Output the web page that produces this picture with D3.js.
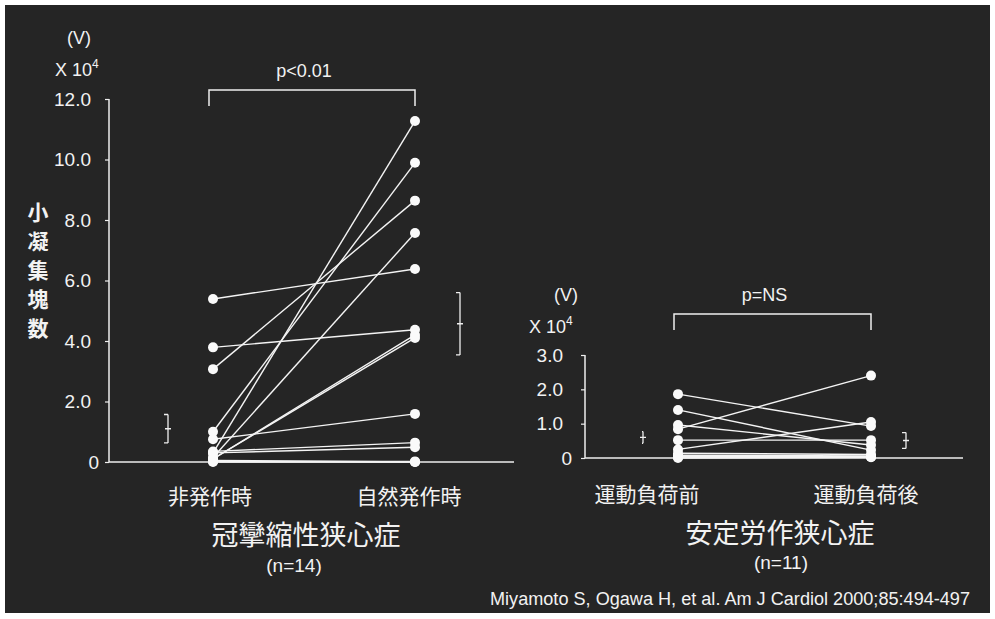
<!DOCTYPE html>
<html><head><meta charset="utf-8">
<script src="https://cdn.jsdelivr.net/npm/d3@7"></script>
<style>
html,body{margin:0;padding:0;background:#fff;}
svg{display:block;}
text{fill:#f2f2f2;font-family:"Liberation Sans","Noto Sans CJK JP",sans-serif;}
.jp{font-family:"Noto Sans CJK JP","Liberation Sans",sans-serif;}
</style></head><body>
<svg id="c" width="995" height="619"></svg>
<script>
// ---- Data ----
const leftCategories = ["非発作時", "自然発作時"];
const leftBefore = [5.39, 3.79, 3.07, 1.00, 0.75, 0.30, 0.35, 0.15, 0.10, 0.10, 0.30, 0.02, 0.00, 0.05];
const leftAfter  = [6.38, 4.37, 8.64, 9.89, 1.59, 11.27, 0.64, 7.57, 4.20, 4.10, 0.49, 0.02, 0.00, 0.00];
const leftMean = [1.10, 4.57];
const leftSD   = [0.47, 1.03];
const leftTicks = [0, 2, 4, 6, 8, 10, 12];

const rightCategories = ["運動負荷前", "運動負荷後"];
const rightBefore = [1.86, 1.40, 0.84, 0.96, 0.52, 0.25, 0.14, 0.08, 0.04, 0.02, 0.00];
const rightAfter  = [0.93, 0.23, 2.40, 0.38, 0.52, 1.05, 0.10, 0.06, 0.04, 0.03, 0.02];
const rightMean = [0.60, 0.51];
const rightSD   = [0.17, 0.23];
const rightTicks = [0, 1, 2, 3];

const leftTitle = "冠攣縮性狭心症", leftN = "(n=14)", leftP = "p<0.01";
const rightTitle = "安定労作狭心症", rightN = "(n=11)", rightP = "p=NS";
const yTitle = ["小", "凝", "集", "塊", "数"];
const citation = "Miyamoto S, Ogawa H, et al.  Am J Cardiol 2000;85:494-497";

// ---- Drawing ----
const svg = d3.select("#c");
svg.append("rect").attr("x", 5).attr("y", 5).attr("width", 985).attr("height", 608).attr("fill", "#252525");

const fmt = d => d === 0 ? "0" : d3.format(".1f")(d);

function panel(o) {
  const g = svg.append("g");
  const y = d3.scaleLinear().domain([0, o.ymax]).range([o.y0, o.y1]);
  const x = d3.scalePoint().domain(o.cats).range([o.xa, o.xb]);
  // y axis
  const ax = g.append("g").attr("transform", `translate(${o.axisX},0)`)
    .call(d3.axisLeft(y).tickValues(o.ticks).tickFormat(fmt).tickSize(4).tickPadding(o.pad));
  ax.select(".domain").attr("stroke", "#eee").attr("stroke-width", 1.5).attr("d", `M-0,${o.y1}V${o.y0}`);
  ax.selectAll(".tick line").attr("stroke", "#eee").attr("stroke-width", 1.2);
  ax.selectAll(".tick text").attr("fill", "#f2f2f2").attr("font-size", 19)
    .attr("font-family", "Liberation Sans, sans-serif")
    .attr("dx", d => d === 0 ? o.zeroDx : 0);
  // x axis line
  g.append("line").attr("x1", o.axisX).attr("x2", o.axisEnd).attr("y1", o.y0).attr("y2", o.y0)
    .attr("stroke", "#eee").attr("stroke-width", 1.5);
  // units
  g.append("text").attr("x", o.unitX).attr("y", o.unitY).attr("font-size", 18).attr("text-anchor", "middle").text("(V)");
  const u = g.append("text").attr("x", o.expX).attr("y", o.unitY + 32).attr("font-size", 18);
  u.append("tspan").text("X 10");
  u.append("tspan").attr("font-size", 12).attr("dy", -8).text("4");
  // bracket
  const [c1, c2] = o.cats.map(c => x(c));
  g.append("path").attr("d", `M${c1 - 4},${o.brY + 16}V${o.brY}H${c2}V${o.brY + 16}`)
    .attr("fill", "none").attr("stroke", "#eee").attr("stroke-width", 1.5);
  g.append("text").attr("x", (c1 + c2) / 2 - 10).attr("y", o.brY - 13).attr("font-size", 18)
    .attr("text-anchor", "middle").text(o.p);
  // lines
  const pairs = o.before.map((b, i) => [b, o.after[i]]);
  g.selectAll(".pl").data(pairs).join("line")
    .attr("x1", c1).attr("x2", c2).attr("y1", d => y(d[0])).attr("y2", d => y(d[1]))
    .attr("stroke", "#f4f4f4").attr("stroke-width", 1.4);
  g.selectAll(".pb").data(o.before).join("circle")
    .attr("cx", c1).attr("cy", d => y(d)).attr("r", 5).attr("fill", "#fafafa");
  g.selectAll(".pa").data(o.after).join("circle")
    .attr("cx", c2).attr("cy", d => y(d)).attr("r", 5).attr("fill", "#fafafa");
  // error bars
  o.mean.forEach((m, i) => {
    const ex = i === 0 ? c1 - o.ebOff : c2 + o.ebOff;
    const lo = y(m - o.sd[i]), hi = y(m + o.sd[i]), mid = y(m);
    const cap = o.caps[i];
    g.append("path")
      .attr("d", `M${ex},${hi}V${lo}M${ex - cap},${hi}H${ex}M${ex - cap},${lo}H${ex}M${ex - 3},${mid}H${ex + 3}`)
      .attr("fill", "none").attr("stroke", "#eee").attr("stroke-width", 1.3);
  });
  // category labels
  g.selectAll(".cl").data(o.cats).join("text").attr("class", "jp")
    .attr("x", (d, i) => x(d) + o.catDx[i]).attr("y", o.catY).attr("font-size", 21).attr("text-anchor", "middle").text(d => d);
  g.append("text").attr("class", "jp").attr("x", o.titleX).attr("y", o.titleY).attr("font-size", 27)
    .attr("text-anchor", "middle").text(o.title);
  g.append("text").attr("x", o.nX).attr("y", o.nY).attr("font-size", 19)
    .attr("text-anchor", "middle").text(o.n);
}

panel({cats: leftCategories, before: leftBefore, after: leftAfter, mean: leftMean, sd: leftSD,
  ticks: leftTicks, ymax: 12, y0: 462, y1: 99, xa: 213, xb: 415, axisX: 109, axisEnd: 514,
  pad: 14, zeroDx: 8,
  unitX: 79, expX: 55, unitY: 44, brY: 90, p: leftP, ebOff: 45, caps: [4, 4], catY: 504, catDx: [-3, -6],
  title: leftTitle, titleX: 306, titleY: 545, n: leftN, nX: 294, nY: 572});

panel({cats: rightCategories, before: rightBefore, after: rightAfter, mean: rightMean, sd: rightSD,
  ticks: rightTicks, ymax: 3, y0: 458, y1: 355, xa: 678, xb: 871, axisX: 585, axisEnd: 963,
  pad: 18, zeroDx: 9,
  unitX: 566, expX: 529, unitY: 301, brY: 314, p: rightP, ebOff: 35, caps: [1, 4], catY: 502, catDx: [-31, -5],
  title: rightTitle, titleX: 780, titleY: 543, n: rightN, nX: 781, nY: 569});

// y title
svg.append("g").selectAll("text").data(yTitle).join("text").attr("class", "jp")
  .attr("x", 38).attr("y", (d, i) => 220 + i * 29).attr("font-size", 21).attr("font-weight", "bold")
  .attr("text-anchor", "middle").text(d => d);

svg.append("text").attr("x", 970).attr("y", 605).attr("font-size", 18).attr("text-anchor", "end")
  .attr("textLength", 480).attr("lengthAdjust", "spacingAndGlyphs")
  .attr("font-family", "Liberation Sans Narrow, Liberation Sans, sans-serif").text(citation);
</script>
</body></html>
